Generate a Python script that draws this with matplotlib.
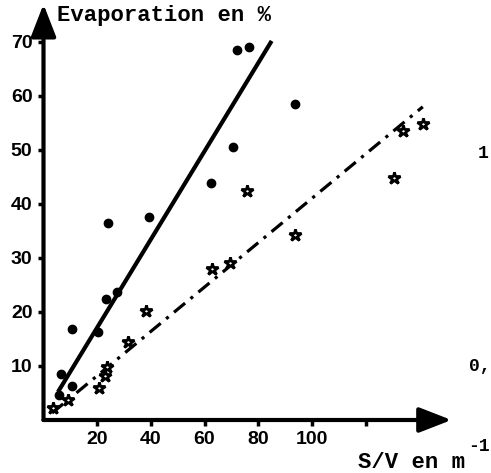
import numpy as np
import matplotlib
matplotlib.use("Agg")
import matplotlib.pyplot as plt

# Data
# series 1 (circles, solid fit)
circ_x = [5.9, 6.5, 10.6, 10.6, 20.3, 23.3, 24.0, 27.4, 39.4, 62.5, 70.7, 72.2, 76.7, 93.8]
circ_y = [4.6, 8.5, 6.3, 16.8, 16.3, 22.4, 36.5, 23.7, 37.6, 43.9, 50.6, 68.5, 69.0, 58.5]
# series 2 (stars, dash-dot fit)
star_x = [3.6, 9.2, 20.7, 23.0, 23.6, 31.3, 38.3, 62.8, 69.6, 75.9, 93.8, 130.4, 133.8, 141.3]
star_y = [2.2, 3.7, 5.9, 8.1, 9.8, 14.4, 20.2, 28.0, 29.1, 42.4, 34.3, 44.8, 53.5, 54.8]
# fitted lines (end points)
fit1_x = [5.4, 85.0]
fit1_y = [5.2, 70.2]
fit2_x = [3.2, 141.3]
fit2_y = [1.3, 58.0]

xticks = [20, 40, 60, 80, 100, 120, 140]
xlabels = ["20", "40", "60", "80", "100", "", ""]
yticks = [10, 20, 30, 40, 50, 60, 70]

W, H = 491, 473
fig = plt.figure(figsize=(W / 100, H / 100), dpi=100)
ax = fig.add_axes([43.5 / W, 53 / H, 408 / W, 415.8 / H])
ax.set_xlim(0, 152)
ax.set_ylim(0, 77)

for s in ax.spines.values():
    s.set_visible(False)

# axes drawn as arrows
arrow = dict(arrowstyle="-|>,head_length=0.9,head_width=0.35", lw=3, color="black",
             mutation_scale=22, shrinkA=0, shrinkB=0)
ax.annotate("", xy=(1.0, 0), xytext=(0, 0), xycoords="axes fraction", arrowprops=arrow,
            annotation_clip=False)
ax.annotate("", xy=(0, 1.0), xytext=(0, 0), xycoords="axes fraction", arrowprops=arrow,
            annotation_clip=False)

ax.plot(fit1_x, fit1_y, color="black", lw=3, solid_capstyle="butt")
ax.plot(fit2_x, fit2_y, color="black", lw=2.3, linestyle=(0, (4.5, 2.2, 1, 2.2)))

ax.plot(circ_x, circ_y, "o", color="black", markersize=6, clip_on=False)
ax.plot(star_x, star_y, "*", markersize=9, mfc="white", mec="black", mew=2, clip_on=False)

ax.set_xticks(xticks)
ax.set_xticklabels(xlabels)
ax.set_yticks(yticks)
ax.tick_params(direction="out", length=4, width=2.5, pad=4)
for lab in ax.get_xticklabels() + ax.get_yticklabels():
    lab.set_fontfamily("Liberation Sans")
    lab.set_fontweight("bold")
    lab.set_fontsize(14)

mono = dict(family="Liberation Mono", fontweight="bold", color="black")
fig.text(57 / W, 1 - 16 / H, "Evaporation en %", fontsize=16, va="center", ha="left", **mono)
fig.text(358 / W, 1 - 462 / H, "S/V en m", fontsize=16, va="center", ha="left", **mono)
fig.text(468 / W, 1 - 446 / H, "-1", fontsize=13, va="center", ha="left", **mono)
fig.text(469 / W, 1 - 366 / H, "0,", fontsize=13, va="center", ha="left", **mono)
fig.text(478 / W, 1 - 153 / H, "1", fontsize=13, va="center", ha="left", **mono)

fig.savefig("out.png", dpi=100)
